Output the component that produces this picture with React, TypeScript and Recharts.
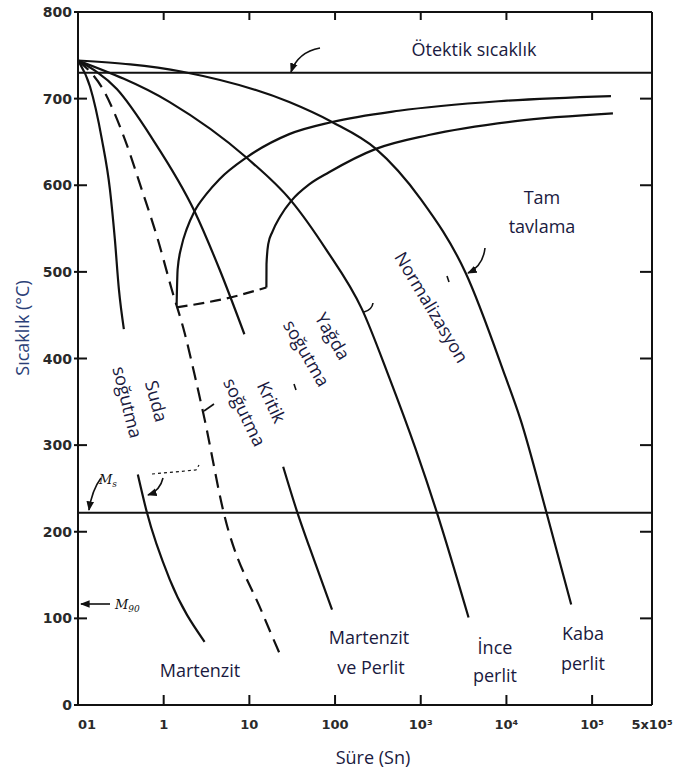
import React from 'react';
import { LineChart, Line, XAxis, YAxis, ReferenceLine } from 'recharts';

// Axes
const xTicks = [0.1, 1, 10, 100, 1000, 10000, 100000, 500000];
const xTickLabels = ['01', '1', '10', '100', '10³', '10⁴', '10⁵', '5x10⁵'];
const innerXTicks = [1, 10, 100, 1000, 10000, 100000];
const yTicks = [0, 100, 200, 300, 400, 500, 600, 700, 800];
const innerYTicks = [100, 200, 300, 400, 500, 600, 700];
const xMin = 0.1;
const xMax = 500000;
const yMax = 800;

const eutectoidTemp = 730;
const msTemp = 222;

// Cooling curves: time (s) and temperature (°C)
const waterTime = [0.1, 0.138, 0.19, 0.236, 0.269, 0.3, 0.343];
const waterTemp = [744, 714, 653, 595, 538, 480, 434];
const waterLowTime = [0.499, 0.634, 1.175, 3.0];
const waterLowTemp = [266, 223, 145, 73];

const criticalTime = [0.1, 0.195, 0.352, 0.555, 0.851, 1.24, 1.75, 2.36, 3.0, 4.99, 14.2, 23.6];
const criticalTemp = [744, 711, 653, 595, 538, 480, 430, 376, 330, 223, 106, 55];

const oilTime = [0.1, 0.284, 0.745, 2.29, 4.48, 8.75];
const oilTemp = [744, 711, 653, 570, 503, 428];
const oilLowTime = [24.8, 36.1, 49.9, 92.2];
const oilLowTemp = [275, 223, 183, 110];

const normTime = [0.1, 1.175, 9.23, 30.8, 78.5, 206, 425, 875, 1535, 3615];
const normTemp = [744, 696, 632, 582, 526, 457, 379, 295, 223, 101];

const annealTime = [0.1, 1.66, 29.2, 92.2, 300, 1000, 3335, 9728, 14550, 29170, 57000];
const annealTemp = [744, 731, 696, 673, 642, 584, 499, 379, 330, 223, 116];

// Transformation start / finish curves
const startTime = [1.416, 1.455, 1.62, 1.85, 2.29, 3.16, 4.48, 9.23, 29.2, 92.2, 555, 8070, 166000];
const startTemp = [462, 503, 530, 549, 570, 590, 607, 632, 659, 673, 686, 697, 703];
const finishTime = [15.8, 15.85, 16.6, 18.5, 22.9, 30.8, 49.9, 85.1, 300, 1240, 12740, 175000];
const finishTemp = [482, 509, 532, 546, 564, 582, 601, 615, 642, 658, 674, 683];
const lowerTime = [1.416, 6.34, 15.8];
const lowerTemp = [459, 471, 482];

const pts = (ts: number[], Ts: number[]) => ts.map((t, i) => ({ t, T: Ts[i] }));

const W = 678;
const H = 771;
const M = { top: 12, right: 26, bottom: 0, left: 0 };
const Y_AXIS_W = 78;
const X_AXIS_H = 66;
// plot box (for the top/right frame decorations)
const PL = M.left + Y_AXIS_W;
const PR = W - M.right;
const PT = M.top;
const PB = H - X_AXIS_H;
const frameX = (v: number) => PL + (Math.log10(v / xMin) / Math.log10(xMax / xMin)) * (PR - PL);
const frameY = (v: number) => PB - (v / yMax) * (PB - PT);

const INK = '#111';
const LABEL = '#1a1a40';
const TICKFONT = 'DejaVu Sans, sans-serif';
const TEXTFONT = '"Open Sans", sans-serif';

const LeftTick = (p: any) => (
  <g>
    <line x1={p.x - 4} x2={p.x + 9} y1={p.y} y2={p.y} stroke={INK} strokeWidth={2} />
    <text x={p.x - 6} y={p.y} textAnchor="end" dominantBaseline="central" fontFamily={TICKFONT} fontWeight="bold" fontSize={14} fill="#2a2a2a">
      {p.payload.value}
    </text>
  </g>
);

const BottomTick = (p: any) => {
  const i = xTicks.indexOf(p.payload.value);
  return (
    <g>
      <line x1={p.x} x2={p.x} y1={p.y} y2={p.y - 10} stroke={INK} strokeWidth={2} />
      <text x={p.x} y={p.y + 19} textAnchor={i === 0 ? 'start' : 'middle'} dominantBaseline="central" fontFamily={TICKFONT} fontWeight="bold" fontSize={13} fill="#2a2a2a">
        {xTickLabels[i]}
      </text>
    </g>
  );
};

const Label = ({ x, y, r = 0, children }: any) => (
  <text x={x} y={y} transform={r ? `rotate(${r}, ${x}, ${y})` : undefined} textAnchor="middle" dominantBaseline="central" fontFamily={TEXTFONT} fontSize={18} fill={LABEL}>
    {children}
  </text>
);

export default function App() {
  const line = { xAxisId: 'b', yAxisId: 'l', dataKey: 'T', dot: false, activeDot: false, isAnimationActive: false, stroke: INK, strokeWidth: 2.2 } as any;
  return (
    <div style={{ position: 'absolute', left: 0, top: 0, width: W, height: H, background: '#fff' }}>
      <LineChart width={W} height={H} margin={M}>
        <XAxis xAxisId="b" dataKey="t" type="number" scale="log" domain={[xMin, xMax]} allowDataOverflow ticks={xTicks} interval={0} height={X_AXIS_H} tickSize={0} tickMargin={0} tickLine={false} tick={BottomTick} axisLine={{ stroke: INK, strokeWidth: 2 }} />
        <YAxis yAxisId="l" type="number" domain={[0, yMax]} ticks={yTicks} interval={0} width={Y_AXIS_W} tickSize={0} tickMargin={0} tickLine={false} tick={LeftTick} axisLine={{ stroke: INK, strokeWidth: 2 }} />

        <ReferenceLine xAxisId="b" yAxisId="l" y={eutectoidTemp} stroke={INK} strokeWidth={2} />
        <ReferenceLine xAxisId="b" yAxisId="l" y={msTemp} stroke={INK} strokeWidth={2} />

        <Line {...line} data={pts(waterTime, waterTemp)} type="monotone" />
        <Line {...line} data={pts(waterLowTime, waterLowTemp)} type="monotone" />
        <Line {...line} data={pts(criticalTime, criticalTemp)} type="monotone" strokeDasharray="14 8" />
        <Line {...line} data={pts(oilTime, oilTemp)} type="monotone" />
        <Line {...line} data={pts(oilLowTime, oilLowTemp)} type="monotone" />
        <Line {...line} data={pts(normTime, normTemp)} type="monotone" />
        <Line {...line} data={pts(annealTime, annealTemp)} type="monotone" />
        <Line {...line} data={pts(startTime, startTemp)} type="monotone" />
        <Line {...line} data={pts(finishTime, finishTemp)} type="monotone" />
        <Line {...line} data={pts(lowerTime, lowerTemp)} type="monotone" strokeDasharray="11 6" />
      </LineChart>

      <svg width={W} height={H} style={{ position: 'absolute', left: 0, top: 0, pointerEvents: 'none' }}>
        <defs>
          <marker id="ah" viewBox="0 0 10 10" refX="9" refY="5" markerWidth="6" markerHeight="6" orient="auto">
            <path d="M0,1 L10,5 L0,9 z" fill={INK} />
          </marker>
        </defs>

        {/* top and right frame with inward ticks */}
        <g stroke={INK} strokeWidth={2}>
          <line x1={PL} x2={PR} y1={PT} y2={PT} />
          <line x1={PR} x2={PR} y1={PT} y2={PB} />
          {innerXTicks.map((v) => (
            <line key={'tx' + v} x1={frameX(v)} x2={frameX(v)} y1={PT} y2={PT + 8} />
          ))}
          {innerYTicks.map((v) => (
            <line key={'ty' + v} x1={PR} x2={PR - 12} y1={frameY(v)} y2={frameY(v)} />
          ))}
        </g>

        <g fill="none" stroke={INK} strokeWidth={1.6}>
          <path d="M320,48 Q298,52 291,72" markerEnd="url(#ah)" />
          <path d="M485,248 Q483,266 468,273" markerEnd="url(#ah)" />
          <path d="M373,303 Q372,310 364,312" />
          <path d="M152,474 L196,470 L199,465" strokeDasharray="3 3" strokeWidth={1.2} />
          <path d="M163,478 Q160,491 148,495" markerEnd="url(#ah)" />
          <path d="M214,404 L204,411" />
          <path d="M101,478 Q92,490 89,510" markerEnd="url(#ah)" />
          <path d="M110,604 L81,604" markerEnd="url(#ah)" />
          <path d="M447,276 L449,282" />
          <path d="M294,384 L296,390" />
        </g>

        <text x={99} y={484} fontFamily="DejaVu Serif, serif" fontStyle="italic" fontSize={13} fill={INK}>
          M<tspan fontSize={9} dy={3}>s</tspan>
        </text>
        <text x={115} y={609} fontFamily="DejaVu Serif, serif" fontStyle="italic" fontSize={13} fill={INK}>
          M<tspan fontSize={9} dy={3}>90</tspan>
        </text>

        <Label x={474} y={49}>Ötektik sıcaklık</Label>
        <Label x={542} y={197}>Tam</Label>
        <Label x={542} y={226}>tavlama</Label>
        <Label x={432} y={307} r={59}>Normalizasyon</Label>
        <Label x={333} y={336} r={60}>Yağda</Label>
        <Label x={307} y={353} r={60}>soğutma</Label>
        <Label x={272} y={402} r={65}>Kritik</Label>
        <Label x={245} y={412} r={64}>soğutma</Label>
        <Label x={157} y={401} r={75}>Suda</Label>
        <Label x={128} y={402} r={76}>soğutma</Label>
        <Label x={200} y={670}>Martenzit</Label>
        <Label x={369} y={637}>Martenzit</Label>
        <Label x={371} y={667}>ve Perlit</Label>
        <Label x={495} y={647}>İnce</Label>
        <Label x={495} y={675}>perlit</Label>
        <Label x={583} y={633}>Kaba</Label>
        <Label x={583} y={663}>perlit</Label>
        <Label x={373} y={757}>Süre (Sn)</Label>
        <text x={22} y={328} transform="rotate(-90, 22, 328)" textAnchor="middle" dominantBaseline="central" fontFamily={TEXTFONT} fontSize={18} fill="#2b3f78">
          Sıcaklık (°C)
        </text>
      </svg>
    </div>
  );
}
